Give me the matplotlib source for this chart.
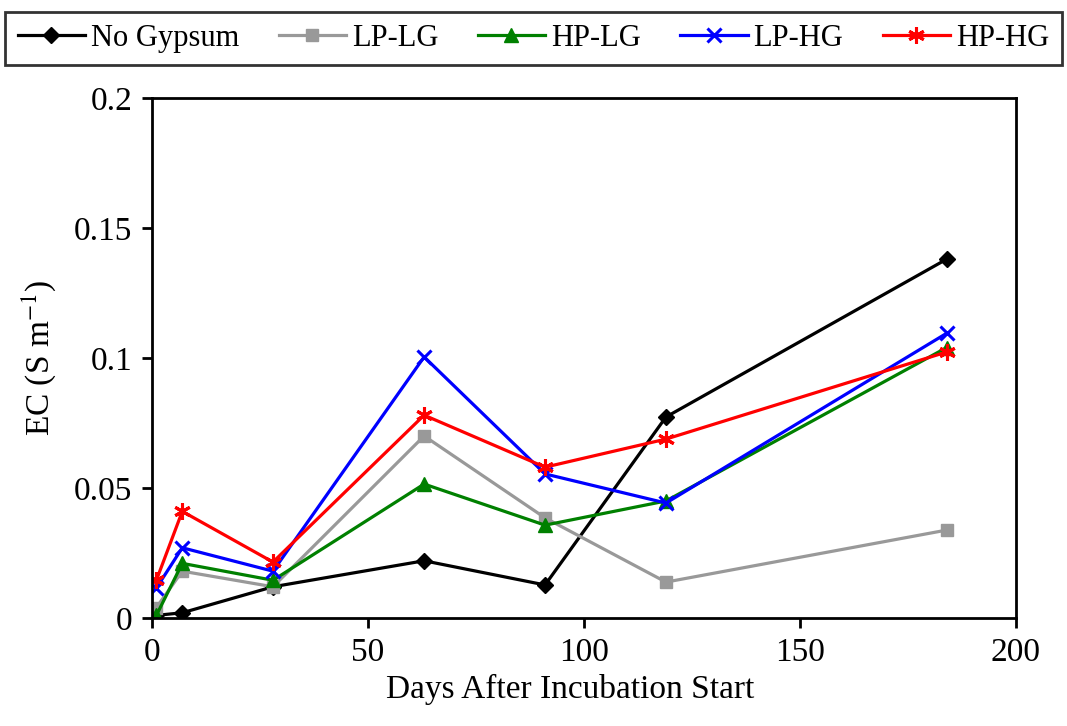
import matplotlib
matplotlib.use("Agg")
import matplotlib.pyplot as plt

plt.rcParams['font.family'] = ['Liberation Serif', 'DejaVu Serif']
plt.rcParams['mathtext.fontset'] = 'stix'

# ---------------------------------- data ----------------------------------
days = [1, 7, 28, 63, 91, 119, 184]

no_gypsum = [0.001, 0.002, 0.012, 0.022, 0.0127, 0.0773, 0.138]
lp_lg = [0.004, 0.018, 0.012, 0.070, 0.0385, 0.0138, 0.0338]
hp_lg = [0.001, 0.021, 0.0145, 0.0515, 0.0357, 0.045, 0.104]
lp_hg = [0.0115, 0.027, 0.018, 0.1004, 0.0554, 0.0442, 0.1095]
hp_hg = [0.0145, 0.041, 0.0215, 0.078, 0.058, 0.0688, 0.1023]

labels = ['No Gypsum', 'LP-LG', 'HP-LG', 'LP-HG', 'HP-HG']
x_ticks = [0, 50, 100, 150, 200]
y_ticks = [0, 0.05, 0.1, 0.15, 0.2]
y_ticklabels = ['0', '0.05', '0.1', '0.15', '0.2']

# ---------------------------------- plot ----------------------------------
fig = plt.figure(figsize=(10.67, 7.26), dpi=100)
ax = fig.add_axes([0.1425, 0.1488, 0.8095, 0.7163])

lw = 2.3
ax.plot(days, no_gypsum, color='black', marker='D', markersize=8, linewidth=lw, label=labels[0])
ax.plot(days, lp_lg, color='#999999', marker='s', markersize=8.5, linewidth=lw, label=labels[1])
ax.plot(days, hp_lg, color='green', marker='^', markersize=10.5, linewidth=lw, label=labels[2])
ax.plot(days, lp_hg, color='blue', marker='x', markersize=10.5, markeredgewidth=2.2, linewidth=lw, label=labels[3])
ax.plot(days, hp_hg, color='red', marker=(6, 2, 0), markersize=12, markeredgewidth=2.2, linewidth=lw, label=labels[4])

ax.set_xlim(0, 200)
ax.set_ylim(0, 0.2)
ax.set_xticks(x_ticks)
ax.set_yticks(y_ticks)
ax.set_yticklabels(y_ticklabels)
ax.tick_params(axis='both', direction='out', length=7, width=2, labelsize=24, pad=7)

for sp in ax.spines.values():
    sp.set_linewidth(2)

ax.set_xlabel('Days After Incubation Start', fontsize=24, labelpad=4, x=0.484)
ax.set_ylabel('EC (S m$^{-1}$)', fontsize=24, labelpad=12)

leg = fig.legend(loc='center', ncol=5, fontsize=22, mode='expand', borderaxespad=0,
                 frameon=True, fancybox=False, edgecolor='black', handlelength=2.2,
                 borderpad=0.4, handletextpad=0.2,
                 bbox_to_anchor=(0.005, 0.907, 0.99, 0.08), bbox_transform=fig.transFigure)
leg.get_frame().set_linewidth(2)

plt.savefig('out.png', dpi=100)
